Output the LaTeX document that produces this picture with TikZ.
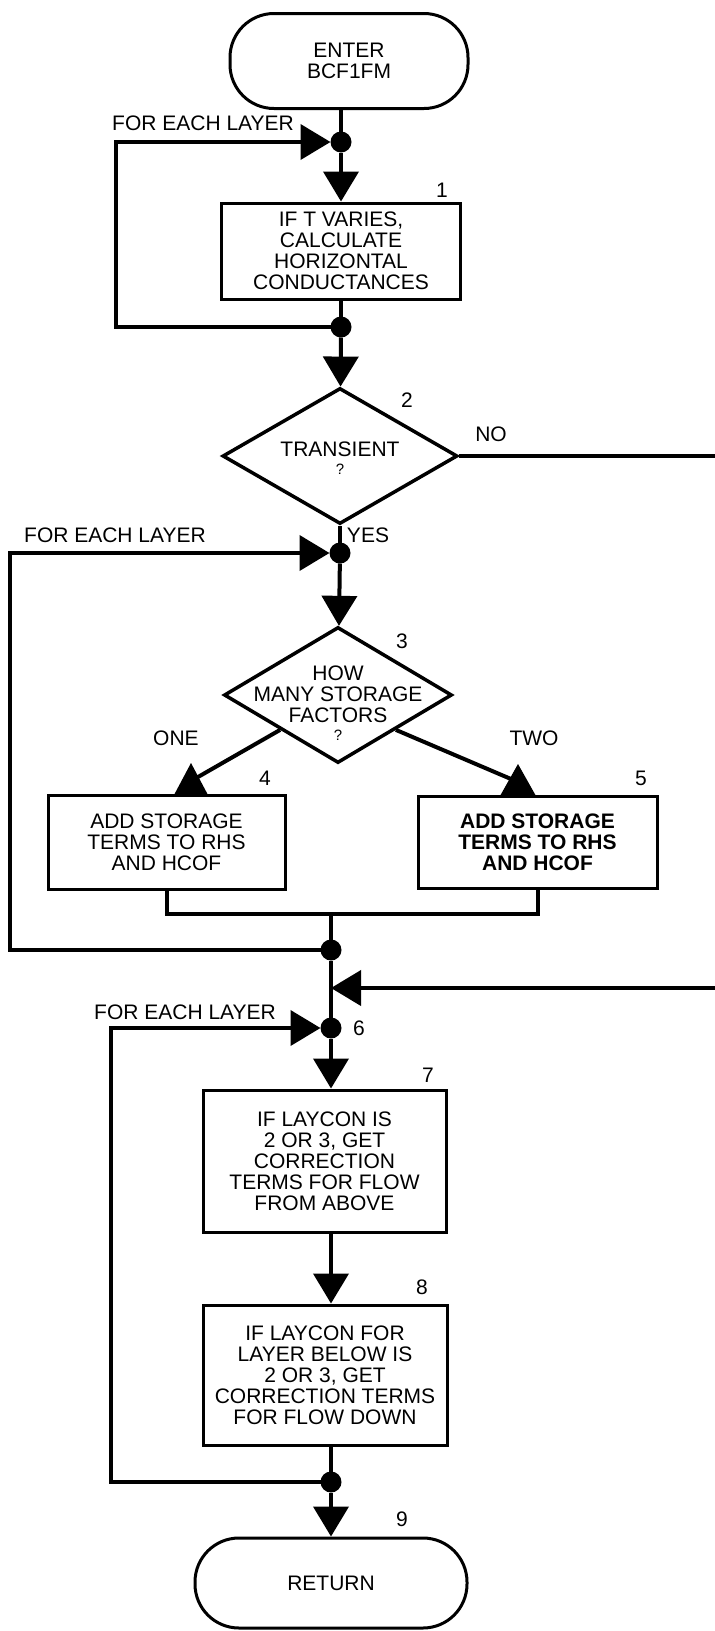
\documentclass[tikz,border=0pt]{standalone}
\usepackage{fontspec}
\setmainfont{Liberation Sans}
\usetikzlibrary{arrows.meta,shapes.geometric}
\newcommand{\qsign}{{\fontsize{15}{15}\selectfont ?}}
\begin{document}
\begin{tikzpicture}[x=1pt,y=-1pt,
  every node/.style={font=\fontsize{21}{21}\selectfont},
  flow/.style={line width=4pt},
  arr/.style={-{Triangle[length=30pt,width=35pt]}},
  box/.style={draw,line width=3pt,align=center,inner sep=0pt},
  term/.style={draw,line width=3pt,rounded corners=44pt,align=center},
  decision/.style={draw,diamond,line width=3.5pt,inner sep=0pt},
  dtext/.style={align=center},
  dot/.style={circle,fill,inner sep=0pt,outer sep=0pt,minimum size=21pt}]
\useasboundingbox (0,0) rectangle (715,1631);
\node[term,minimum width=238pt,minimum height=95pt] (enter) at (349,61) {ENTER\\BCF1FM};
\node[dot] (dot1) at (341,142) {};
\node (fe1) at (203,123) {FOR EACH LAYER};
\coordinate (l1) at (116,230);
\node[box,minimum width=239pt,minimum height=96pt] (b1) at (341,251) {IF T VARIES,\\CALCULATE\\HORIZONTAL\\CONDUCTANCES};
\node (n1) at (442,190) {1};
\node[dot] (dot1b) at (341,327) {};
\node[decision,minimum width=235pt,minimum height=136pt,
  label={[dtext,yshift=-2pt]center:{TRANSIENT\\[-3pt]\qsign}}] (d2) at (340,456) {};
\node (n2) at (407,400) {2};
\node (no) at (491,434) {NO};
\node (yes) at (368,535) {YES};
\node[dot] (dot2) at (340,553) {};
\node (fe2) at (115,535) {FOR EACH LAYER};
\coordinate (l2) at (10,750);
\node[decision,minimum width=228pt,minimum height=136pt,
  label={[dtext,yshift=-8pt]center:{HOW\\MANY STORAGE\\FACTORS\\[-3pt]\qsign}}] (d3) at (338,695) {};
\node (n3) at (402,641) {3};
\node (one) at (176,738) {ONE};
\node (two) at (534,738) {TWO};
\node (n4) at (265,778) {4};
\node (n5) at (641,778) {5};
\coordinate (a4) at (191,795);
\coordinate (a5) at (518,796);
\node[box,minimum width=237pt,minimum height=94pt] (b4) at (166.5,842) {ADD STORAGE\\TERMS TO RHS\\AND HCOF};
\node[box,minimum width=239pt,minimum height=92pt,font=\fontsize{21}{21}\selectfont\bfseries] (b5) at (537.5,842) {ADD STORAGE\\TERMS TO RHS\\AND HCOF};
\coordinate (jn) at (331,914);
\node[dot] (dot3) at (331,950) {};
\coordinate (mg) at (331,988);
\coordinate (r1) at (717,700);
\node[dot] (dot6) at (331,1028) {};
\node (n6) at (359,1028) {6};
\node (fe3) at (185,1012) {FOR EACH LAYER};
\coordinate (l3) at (111,1250);
\node[box,minimum width=243pt,minimum height=142pt] (b7) at (324.5,1161) {IF LAYCON IS\\2 OR 3, GET\\CORRECTION\\TERMS FOR FLOW\\FROM ABOVE};
\node (n7) at (428,1075) {7};
\node[box,minimum width=244pt,minimum height=140pt] (b8) at (325,1375) {IF LAYCON FOR\\LAYER BELOW IS\\2 OR 3, GET\\CORRECTION TERMS\\FOR FLOW DOWN};
\node (n8) at (422,1287) {8};
\node[dot] (dot8) at (331,1482) {};
\node[term,minimum width=272pt,minimum height=90pt] (ret) at (331,1583) {RETURN};
\node (n9) at (402,1519) {9};
\draw[flow] (enter.south -| dot1) -- (dot1);
\draw[flow,arr] (dot1) -- (b1);
\draw[flow] (b1) -- (dot1b);
\draw[flow,arr] (dot1b) -- (d2);
\draw[flow,arr] (dot1b) -| (l1) |- (dot1);
\draw[flow] (d2) -- (dot2);
\draw[flow,arr] (dot2) -- (d3);
\draw[flow,arr] (dot3) -| (l2) |- (dot2);
\draw[flow] (d3.south west) -- ([yshift=14pt]a4);
\fill (a4) ++(-17,0) -- ++(17,-32) -- ++(17,32) -- cycle;
\draw[flow] (d3.south east) -- ([yshift=14pt]a5);
\fill (a5) ++(-18,0) -- ++(18,-32) -- ++(18,32) -- cycle;
\draw[flow] (b4) -- (b4 |- jn) -| (b5);
\draw[flow] (jn) -- (dot3);
\draw[flow] (dot3) -- (dot6);
\draw[flow,arr] (d2) -| (r1) |- (mg);
\draw[flow,arr] (dot8) -| (l3) |- (dot6);
\draw[flow,arr] (dot6) -- (b7.north -| dot6);
\draw[flow,arr] (b7.south -| dot6) -- (b8.north -| dot6);
\draw[flow] (b8.south -| dot6) -- (dot8);
\draw[flow,arr] (dot8) -- (ret.north -| dot8);
\end{tikzpicture}
\end{document}
